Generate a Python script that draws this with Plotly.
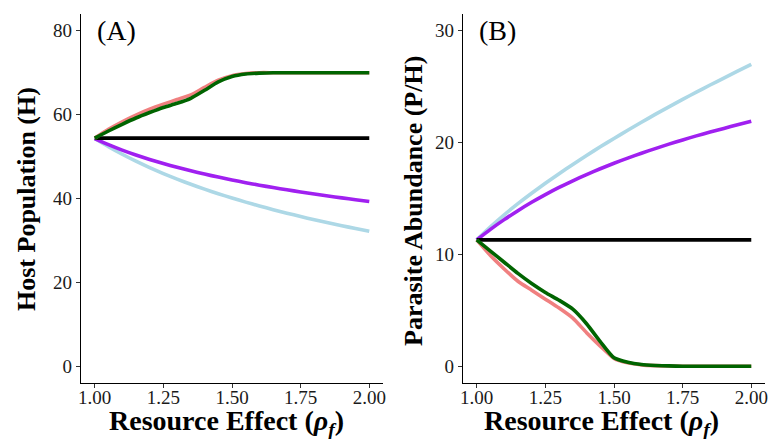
import plotly.graph_objects as go

rho = [1.00, 1.05, 1.10, 1.15, 1.20, 1.25, 1.30, 1.35, 1.40, 1.45, 1.50,
       1.55, 1.60, 1.65, 1.70, 1.75, 1.80, 1.85, 1.90, 1.95, 2.00]

# Panel A: Host population (H)
host_lightblue = [54.3, 52.35, 50.55, 48.90, 47.37, 45.95, 44.63, 43.39, 42.23, 41.14, 40.11,
                  39.14, 38.21, 37.34, 36.50, 35.70, 34.94, 34.21, 33.51, 32.84, 32.2]
host_purple = [54.3, 52.83, 51.53, 50.36, 49.30, 48.33, 47.43, 46.60, 45.82, 45.10, 44.42,
               43.78, 43.18, 42.61, 42.07, 41.56, 41.07, 40.60, 40.15, 39.72, 39.3]
host_black = [54.4] * 21
host_red = [54.4, 56.5, 58.3, 59.9, 61.3, 62.5, 63.6, 64.7, 66.5, 68.2, 69.3,
            69.8, 70.0, 70.0, 70.0, 70.0, 70.0, 70.0, 70.0, 70.0, 70.0]
host_green = [54.4, 56.1, 57.7, 59.2, 60.5, 61.7, 62.7, 63.9, 65.8, 67.8, 69.1,
              69.7, 69.9, 70.0, 70.0, 70.0, 70.0, 70.0, 70.0, 70.0, 70.0]

# Panel B: Parasite abundance (P/H)
par_lightblue = [11.3, 12.46, 13.54, 14.54, 15.47, 16.36, 17.22, 18.05, 18.85, 19.62, 20.37,
                 21.10, 21.82, 22.52, 23.20, 23.87, 24.51, 25.15, 25.77, 26.39, 27.0]
par_purple = [11.3, 12.24, 13.11, 13.91, 14.66, 15.35, 15.99, 16.58, 17.14, 17.66, 18.15,
              18.61, 19.05, 19.46, 19.86, 20.24, 20.60, 20.94, 21.27, 21.59, 21.9]
par_black = [11.3] * 21
par_red = [11.3, 9.9, 8.7, 7.6, 6.8, 6.0, 5.2, 4.3, 3.0, 1.8, 0.7,
           0.3, 0.12, 0.05, 0.02, 0.0, 0.0, 0.0, 0.0, 0.0, 0.0]
par_green = [11.3, 10.3, 9.3, 8.3, 7.4, 6.6, 5.9, 5.1, 3.8, 2.2, 0.75,
             0.35, 0.15, 0.07, 0.03, 0.0, 0.0, 0.0, 0.0, 0.0, 0.0]

x_ticks = [1.00, 1.25, 1.50, 1.75, 2.00]
x_ticklabels = ["1.00", "1.25", "1.50", "1.75", "2.00"]
yA_ticks = [0, 20, 40, 60, 80]
yB_ticks = [0, 10, 20, 30]

x_title = "<b>Resource Effect (<i>ρ<sub>f</sub></i>)</b>"
yA_title = "<b>Host Population (H)</b>"
yB_title = "<b>Parasite Abundance (P/H)</b>"

colors = {"lightblue": "#ADD8E6", "purple": "#A020F0", "black": "#000000",
          "red": "#F08080", "green": "#006400"}

fig = go.Figure()

seriesA = [("lightblue", host_lightblue), ("purple", host_purple), ("black", host_black),
           ("red", host_red), ("green", host_green)]
seriesB = [("lightblue", par_lightblue), ("purple", par_purple), ("black", par_black),
           ("red", par_red), ("green", par_green)]

for name, ys in seriesA:
    fig.add_trace(go.Scatter(x=rho, y=ys, mode="lines", xaxis="x", yaxis="y",
                             line=dict(color=colors[name], width=3.6, shape="spline", smoothing=0.6),
                             showlegend=False, hoverinfo="skip"))
for name, ys in seriesB:
    fig.add_trace(go.Scatter(x=rho, y=ys, mode="lines", xaxis="x2", yaxis="y2",
                             line=dict(color=colors[name], width=3.6, shape="spline", smoothing=0.6),
                             showlegend=False, hoverinfo="skip"))

W, H = 768, 439
ML, MR, MT, MB = 81, 3, 14, 56
PW = W - ML - MR
PH = H - MT - MB
font_family = "Liberation Serif"
tickfont = dict(family=font_family, size=19, color="#1a1a1a")
ytitlefont = dict(family=font_family, size=26, color="#000000")
xtitlefont = dict(family=font_family, size=28, color="#000000")

def xaxis_common(domain, anchor):
    return dict(domain=domain, anchor=anchor, range=[0.95, 2.05],
                tickvals=x_ticks, ticktext=x_ticklabels, tickfont=tickfont,
                showline=True, linecolor="black", linewidth=1.3, mirror=False,
                ticks="outside", ticklen=4, tickcolor="#333333", tickwidth=1,
                showgrid=False, zeroline=False, automargin=False,
                ticklabelstandoff=-7)

def yaxis_common(domain, anchor, rng, ticks):
    return dict(domain=domain, anchor=anchor, range=rng,
                tickvals=ticks, tickfont=tickfont,
                showline=True, linecolor="black", linewidth=1.3, mirror=False,
                ticks="outside", ticklen=4, tickcolor="#333333", tickwidth=1,
                showgrid=False, zeroline=False, automargin=False)

def px_x(p):
    return (p - ML) / PW

def px_y(p):
    return (H - MB - p) / PH

annotations = [
    dict(x=1.0, y=80, xref="x", yref="y", text="(A)", showarrow=False,
         xanchor="left", yanchor="middle", font=dict(family=font_family, size=28, color="black")),
    dict(x=1.0, y=30, xref="x2", yref="y2", text="(B)", showarrow=False,
         xanchor="left", yanchor="middle", font=dict(family=font_family, size=28, color="black")),
    dict(x=px_x(226), y=px_y(422), xref="paper", yref="paper", text=x_title, showarrow=False,
         xanchor="center", yanchor="middle", font=xtitlefont),
    dict(x=px_x(601), y=px_y(422), xref="paper", yref="paper", text=x_title, showarrow=False,
         xanchor="center", yanchor="middle", font=xtitlefont),
    dict(x=px_x(27), y=px_y(199), xref="paper", yref="paper", text=yA_title, showarrow=False,
         textangle=-90, xanchor="center", yanchor="middle", font=ytitlefont),
    dict(x=px_x(413), y=px_y(201), xref="paper", yref="paper", text=yB_title, showarrow=False,
         textangle=-90, xanchor="center", yanchor="middle", font=ytitlefont),
]

fig.update_layout(
    width=W, height=H,
    margin=dict(l=ML, r=MR, t=MT, b=MB, autoexpand=False),
    paper_bgcolor="white", plot_bgcolor="white",
    xaxis=xaxis_common([0, (383 - ML) / PW], "y"),
    yaxis=yaxis_common([0, 1], "x", [-4, 84], yA_ticks),
    xaxis2=xaxis_common([(463 - ML) / PW, 1], "y2"),
    yaxis2=yaxis_common([0, 1], "x2", [-1.5, 31.5], yB_ticks),
    annotations=annotations,
)

fig.write_html("out.html")
